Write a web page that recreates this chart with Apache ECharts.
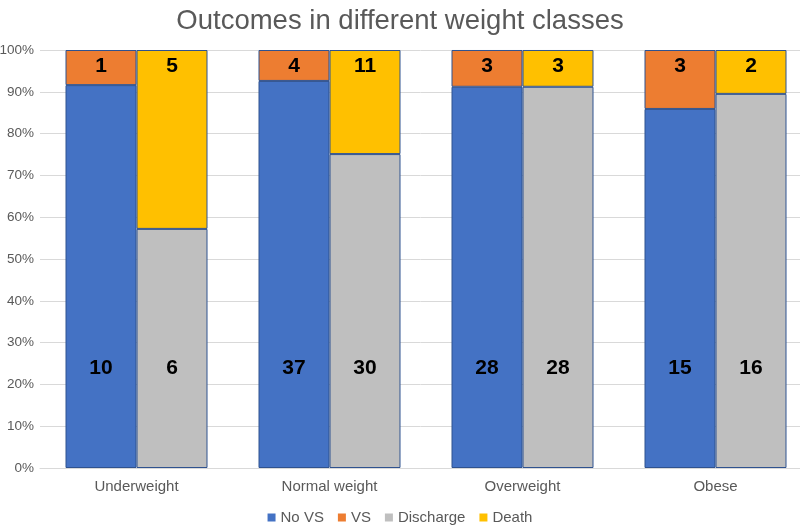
<!DOCTYPE html>
<html lang="en">
<head>
	<meta charset="UTF-8">
	<title>Outcomes in different weight classes</title>
	<script src="https://cdn.jsdelivr.net/npm/echarts@6.0.0/dist/echarts.min.js"></script>
	<style>
		html, body { margin: 0; padding: 0; background: #fff; }
	</style>
</head>
<body>
	<div id="main" style="width: 800px;height:525px;"></div>

	<script>
		var categories = ['Underweight', 'Normal weight', 'Overweight', 'Obese'];

		// bar heights in percent
		var noVsPct = [91.6, 92.6, 91.2, 85.9];
		var vsPct = [8.4, 7.4, 8.8, 14.1];
		var dischargePct = [57.2, 75.1, 91.2, 89.5];
		var deathPct = [42.8, 24.9, 8.8, 10.5];

		// counts printed on the bars
		var noVsCount = [10, 37, 28, 15];
		var vsCount = [1, 4, 3, 3];
		var dischargeCount = [6, 30, 28, 16];
		var deathCount = [5, 11, 3, 2];

		var font = 'Liberation Sans, Arial, sans-serif';
		var grey = '#595959';

		function makeSeries(name, stack, values, counts, color, where) {
			return {
				name: name,
				type: 'bar',
				stack: stack,
				data: values,
				barWidth: 71,
				barGap: '0%',
				itemStyle: { color: color, borderColor: '#2F528F', borderWidth: 1 },
				label: {
					show: true,
					position: where === 'bottom' ? 'insideBottom' : 'insideTop',
					distance: where === 'bottom' ? 89 : 6,
					color: '#000',
					fontFamily: font,
					fontWeight: 'bold',
					fontSize: 21,
					formatter: function (p) { return counts[p.dataIndex]; }
				}
			};
		}

		var chart = echarts.init(document.getElementById('main'));
		chart.setOption({
			animation: false,
			title: {
				text: 'Outcomes in different weight classes',
				left: 'center',
				top: 2,
				textStyle: { color: grey, fontFamily: font, fontWeight: 'normal', fontSize: 27.5 }
			},
			legend: {
				top: 505,
				left: 'center',
				icon: 'rect',
				itemWidth: 8,
				itemHeight: 8,
				itemGap: 14,
				itemStyle: { borderWidth: 0 },
				textStyle: { color: grey, fontFamily: font, fontSize: 15 },
				data: ['No VS', 'VS', 'Discharge', 'Death']
			},
			grid: { left: 40, right: -12, top: 50, bottom: 57, outerBoundsMode: 'none' },
			xAxis: {
				type: 'category',
				data: categories,
				axisLine: { lineStyle: { color: '#d9d9d9' } },
				axisTick: { show: false },
				axisLabel: { color: grey, fontFamily: font, fontSize: 15, margin: 11 }
			},
			yAxis: {
				type: 'value',
				min: 0,
				max: 100,
				interval: 10,
				axisLabel: { color: grey, fontFamily: font, fontSize: 13.5, margin: 6, formatter: '{value}%' },
				splitLine: { lineStyle: { color: '#d9d9d9' } }
			},
			series: [
				makeSeries('No VS', 'a', noVsPct, noVsCount, '#4472C4', 'bottom'),
				makeSeries('VS', 'a', vsPct, vsCount, '#ED7D31', 'top'),
				makeSeries('Discharge', 'b', dischargePct, dischargeCount, '#BFBFBF', 'bottom'),
				makeSeries('Death', 'b', deathPct, deathCount, '#FFC000', 'top')
			]
		});
	</script>
</body>
</html>
